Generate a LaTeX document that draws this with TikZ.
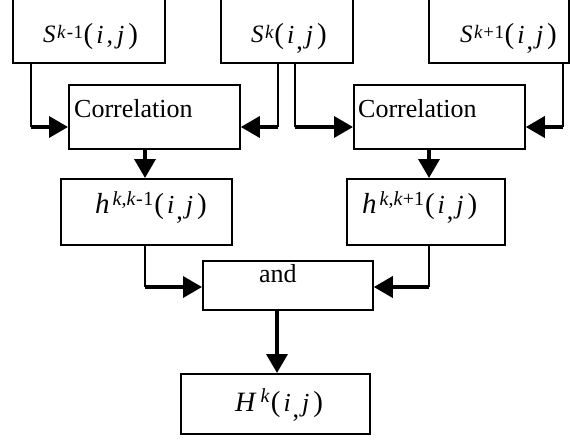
\documentclass[tikz,border=0pt]{standalone}
\usepackage{fontspec}
\setmainfont{Liberation Serif}
\usetikzlibrary{arrows.meta}
\newcommand{\fs}[1]{\fontsize{#1}{#1}\selectfont}
% (i,j) with normal comma or lowered comma
\newcommand{\ijn}{{\fs{29}(}\kern3pt{\fs{26}\textit{i}\kern3pt,\kern4pt\textit{j}}\kern4pt{\fs{29})}}
\newcommand{\ijl}{{\fs{29}(}\kern3pt{\fs{26}\textit{i}\kern2pt\raisebox{-6pt}{,}\kern3pt\textit{j}}\kern4pt{\fs{29})}}
\begin{document}
\begin{tikzpicture}[x=1pt,y=-1pt,
  box/.style={draw, line width=1.8pt, inner sep=0pt, anchor=north west},
  txt/.style={inner sep=0pt, anchor=base west, font=\fs{26}},
  feed/.style={line width=1.6pt},
  flow/.style={line width=3.6pt, -{Triangle[length=19pt,width=21pt]}}]
\useasboundingbox (0,0) rectangle (570,439);
% boxes
\node[box, minimum width=152pt, minimum height=72pt] (s1) at (12,-10) {};
\node[box, minimum width=132pt, minimum height=72pt] (s2) at (220,-10) {};
\node[box, minimum width=140pt, minimum height=72pt] (s3) at (428,-10) {};
\node[box, minimum width=171pt, minimum height=64pt] (c1) at (68,84) {};
\node[box, minimum width=171pt, minimum height=64pt] (c2) at (353,84) {};
\node[box, minimum width=171pt, minimum height=66pt] (h1) at (60,178) {};
\node[box, minimum width=158pt, minimum height=66pt] (h2) at (346,178) {};
\node[box, minimum width=170pt, minimum height=49pt] (an) at (202,260) {};
\node[box, minimum width=189pt, minimum height=60pt] (H) at (180,373) {};
% texts
\node[txt] (ts1) at (43,43) {\raisebox{1pt}{\fs{25}\textit{S}}\kern1.5pt\raisebox{5pt}{\fs{19}\textit{k}\kern1pt-\kern0.5pt1}\kern0.5pt\ijn};
\node[txt] (ts2) at (251,43) {\raisebox{1pt}{\fs{25}\textit{S}}\kern1.5pt\raisebox{5pt}{\fs{19}\textit{k}}\kern0.5pt\ijl};
\node[txt] (ts3) at (460,43) {\raisebox{1pt}{\fs{25}\textit{S}}\kern1.5pt\raisebox{5pt}{\fs{19}\textit{k}\kern0.5pt+\kern0.5pt1}\kern0.5pt\ijl};
\node[txt] (tc1) at (74,117) {Correlation};
\node[txt] (tc2) at (358,117) {Correlation};
\node[txt] (th1) at (95,213) {{\fs{29}\textit{h}}\kern3pt\raisebox{8pt}{\fs{20}\textit{k},\textit{k}\kern0.5pt-\kern0.5pt1}\kern1pt\ijl};
\node[txt] (th2) at (362,213) {{\fs{29}\textit{h}}\kern3pt\raisebox{8pt}{\fs{20}\textit{k},\textit{k}+1}\kern1pt\ijl};
\node[txt] (tan) at (259,282) {and};
\node[txt] (tH) at (235,411) {{\fs{28}\textit{H}}\kern4pt\raisebox{9pt}{\fs{20}\textit{k}}\kern1pt\ijl};
% connectors
\coordinate (j1) at (31,127);
\coordinate (j2) at (278,127);
\coordinate (j3) at (295,127);
\coordinate (j4) at (563,127);
\coordinate (j5) at (145,287);
\coordinate (j6) at (429,287);
\coordinate (k1) at (429,0);
\coordinate (k2) at (277,0);
\draw[feed] (s1.south -| j1) -- (j1);
\draw[flow] (j1) -- (c1.west |- j1);
\draw[feed] (s2.south -| j2) -- (j2);
\draw[flow] (j2) -- (c1.east |- j2);
\draw[feed] (s2.south -| j3) -- (j3);
\draw[flow] (j3) -- (c2.west |- j3);
\draw[feed] (s3.south -| j4) -- (j4);
\draw[flow] (j4) -- (c2.east |- j4);
\draw[flow] (c1.south -| j5) -- (h1.north -| j5);
\draw[flow] (c2.south -| k1) -- (h2.north -| k1);
\draw[feed] (h1.south -| j5) -- (j5);
\draw[flow] (j5) -- (an.west |- j5);
\draw[feed] (h2.south -| j6) -- (j6);
\draw[flow] (j6) -- (an.east |- j6);
\draw[flow] (an.south -| k2) -- (H.north -| k2);
\end{tikzpicture}
\end{document}
